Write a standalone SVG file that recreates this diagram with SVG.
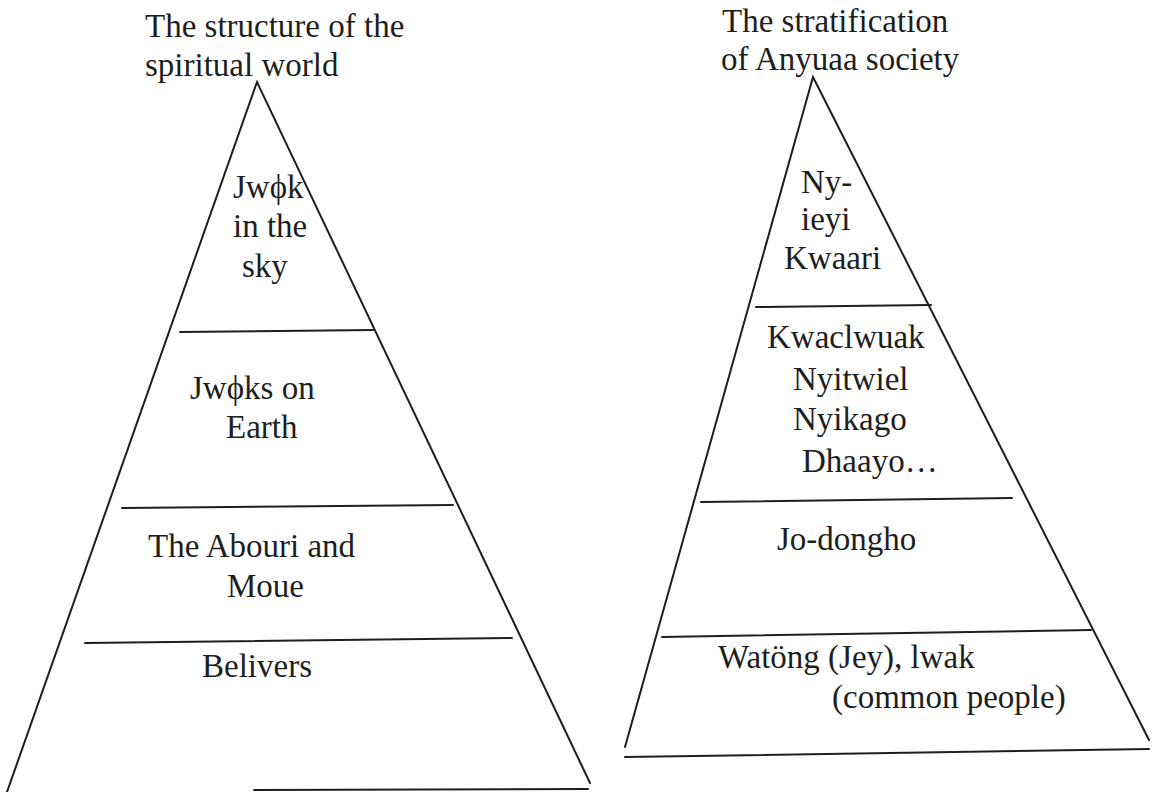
<svg xmlns="http://www.w3.org/2000/svg" width="1153" height="792" viewBox="0 0 1153 792">
<style>
.ln{stroke:#1e1e1e;stroke-width:2;fill:none;stroke-linecap:round}
.t{font-family:"Liberation Serif","Times New Roman",serif;font-size:33px;fill:#1e1e1e}
</style>
<rect width="1153" height="792" fill="#fff"/>
<g id="left-pyramid">
  <text class="t" x="145" y="37">The structure of the</text>
  <text class="t" x="145" y="76">spiritual world</text>
  <path class="ln" d="M7,792 L257,82 L590,783"/>
  <line class="ln" x1="180" y1="332" x2="373" y2="330"/>
  <line class="ln" x1="122" y1="508" x2="453" y2="505"/>
  <line class="ln" x1="85" y1="643" x2="512" y2="638"/>
  <line class="ln" x1="254" y1="790" x2="588" y2="789"/>
  <g id="l-tier1">
    <text class="t" x="233" y="198">Jwϕk</text>
    <text class="t" x="233" y="237">in the</text>
    <text class="t" x="242" y="277">sky</text>
  </g>
  <g id="l-tier2">
    <text class="t" x="190" y="399">Jwϕks on</text>
    <text class="t" x="226" y="438">Earth</text>
  </g>
  <g id="l-tier3">
    <text class="t" x="148" y="557">The Abouri and</text>
    <text class="t" x="227" y="597">Moue</text>
  </g>
  <g id="l-tier4">
    <text class="t" x="202" y="677">Belivers</text>
  </g>
</g>
<g id="right-pyramid">
  <text class="t" x="722" y="32">The stratification</text>
  <text class="t" x="721" y="70">of Anyuaa society</text>
  <path class="ln" d="M625,747 L813,77 L1149,740"/>
  <line class="ln" x1="756" y1="307" x2="931" y2="305"/>
  <line class="ln" x1="701" y1="502" x2="1012" y2="498"/>
  <line class="ln" x1="662" y1="637" x2="1091" y2="630"/>
  <line class="ln" x1="625" y1="757" x2="1149" y2="749"/>
  <g id="r-tier1">
    <text class="t" x="801" y="193">Ny-</text>
    <text class="t" x="801" y="230">ieyi</text>
    <text class="t" x="784" y="269">Kwaari</text>
  </g>
  <g id="r-tier2">
    <text class="t" x="767" y="348">Kwaclwuak</text>
    <text class="t" x="793" y="390">Nyitwiel</text>
    <text class="t" x="793" y="430">Nyikago</text>
    <text class="t" x="802" y="472">Dhaayo…</text>
  </g>
  <g id="r-tier3">
    <text class="t" x="777" y="550">Jo-dongho</text>
  </g>
  <g id="r-tier4">
    <text class="t" x="718" y="668">Watöng (Jey), lwak</text>
    <text class="t" x="832" y="708">(common people)</text>
  </g>
</g>
</svg>
